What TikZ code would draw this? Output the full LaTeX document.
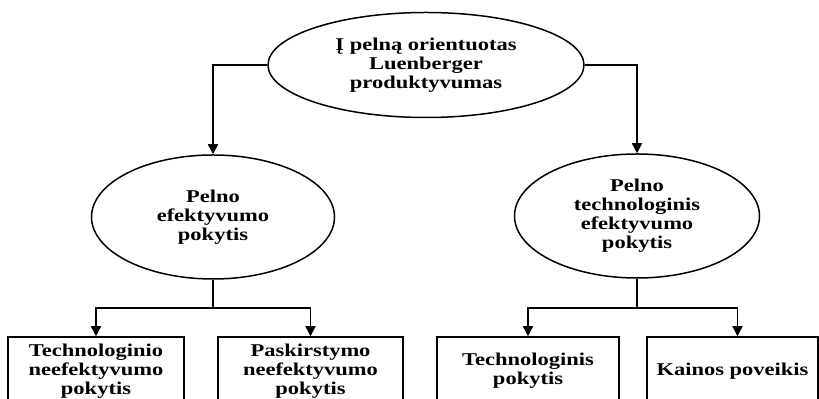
\documentclass[tikz,border=0pt]{standalone}
\usepackage{fontspec}
\setmainfont{Liberation Serif}[FakeStretch=1.25]
\usetikzlibrary{positioning}
\usetikzlibrary{shapes.geometric}
\usetikzlibrary{arrows.meta}

\begin{document}
\begin{tikzpicture}[x=0.5pt,y=-0.5pt,
	every node/.style={font=\bfseries\fontsize{9}{9.5}\selectfont,align=center,inner sep=0pt},
	oval/.style={draw,ellipse,line width=0.75pt},
	box/.style={draw,rectangle,line width=0.75pt,minimum height=34pt},
	link/.style={line width=0.75pt,-{Triangle[width=5pt,length=5pt]}}]
	\useasboundingbox (0,0) rectangle (819,399);
	\clip (0,0) rectangle (819,399);
	%% top
	\node[oval,minimum width=158pt,minimum height=52.5pt] (top) at (426,65) {Į pelną orientuotas\\Luenberger\\produktyvumas};
	%% second level
	\node[oval,minimum width=121.5pt,minimum height=62pt] (lft) at (213,217) {Pelno\\efektyvumo\\pokytis};
	\node[oval,minimum width=122.5pt,minimum height=62pt] (rgt) at (637,216) {Pelno\\technologinis\\efektyvumo\\pokytis};
	%% boxes
	\node[box,minimum width=88pt] (l1) at (96,371) {Technologinio\\neefektyvumo\\pokytis};
	\node[box,minimum width=92.5pt] (l2) at (310.5,371) {Paskirstymo\\neefektyvumo\\pokytis};
	\node[box,minimum width=91pt] (r1) at (528,371) {Technologinis\\pokytis};
	\node[box,minimum width=85.5pt] (r2) at (732.5,371) {Kainos poveikis};
	% junctions
	\coordinate (lj) at (213,308);
	\coordinate (rj) at (637,308);
	% connectors
	\draw[link] (top.west) -| (lft.north);
	\draw[link] (top.east) -| (rgt.north);
	\draw[line width=0.75pt] (lft.south) -- (lj);
	\draw[line width=0.75pt] (rgt.south) -- (rj);
	\draw[link] (lj) -| (l1.north);
	\draw[link] (lj) -| (l2.north);
	\draw[link] (rj) -| (r1.north);
	\draw[link] (rj) -| ([xshift=2.5pt]r2.north);
\end{tikzpicture}
\end{document}
